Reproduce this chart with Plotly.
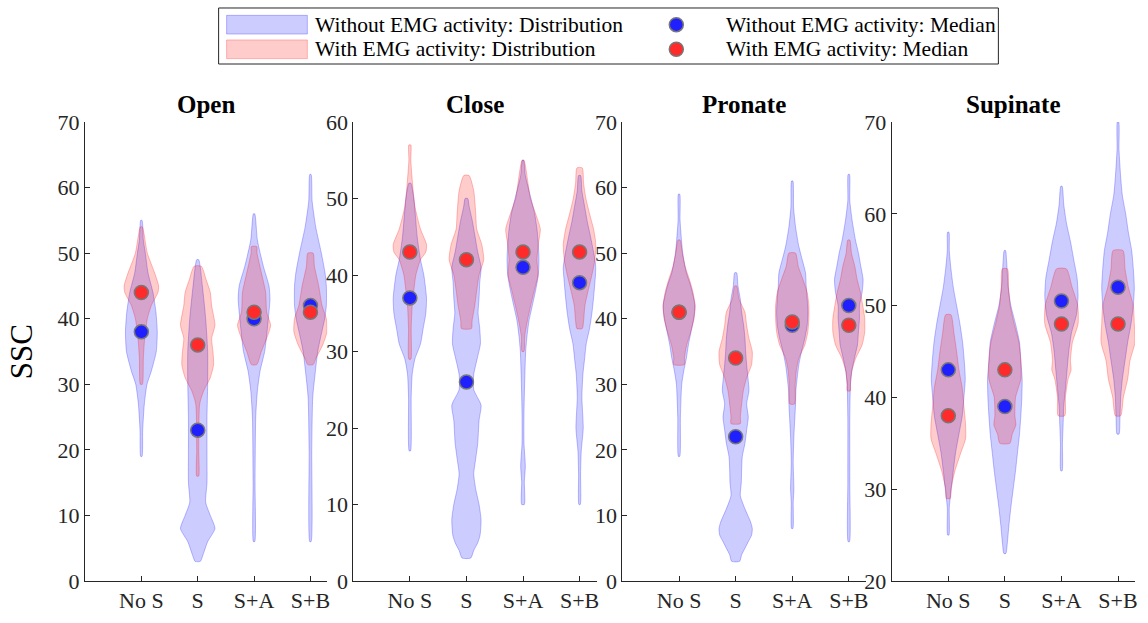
import plotly.graph_objects as go

# ---------------- data ----------------
categories = ["No S", "S", "S+A", "S+B"]
panels = ["Open", "Close", "Pronate", "Supinate"]

# violin outlines: [value, relative density half-width], top -> bottom
open_without = [
    [[55, 2], [52, 6], [50, 12], [47, 20], [44, 35], [41, 44], [38, 48], [35, 45], [32, 30], [30, 17], [27, 9], [23, 4], [19, 2]],
    [[49, 3], [45, 14], [40, 24], [35, 30], [30, 30], [25, 28], [20, 28], [15, 28], [12, 24], [10, 38], [8, 52], [6, 30], [4, 16], [3, 8]],
    [[56, 2], [52, 10], [48, 28], [45, 45], [43, 48], [40, 43], [37, 37], [35, 32], [32, 18], [29, 10], [25, 5], [15, 3], [6, 2]],
    [[62, 2], [58, 5], [54, 16], [50, 33], [47, 44], [45, 48], [42, 48], [40, 43], [37, 30], [35, 22], [32, 15], [28, 7], [20, 4], [6, 2]],
]
open_with = [
    [[54, 3], [50, 18], [47, 40], [45, 52], [44, 50], [42, 30], [40, 18], [37, 10], [34, 6], [30, 3]],
    [[48, 11], [46, 25], [44, 38], [42, 42], [39, 52], [37, 42], [35, 46], [33, 48], [31, 38], [29, 18], [27, 6], [20, 3], [16, 3]],
    [[51, 8], [50, 9], [47, 22], [44, 35], [41, 38], [39, 50], [37, 38], [35, 22], [33, 8]],
    [[50, 8], [48, 12], [45, 25], [42, 35], [40, 48], [38, 50], [36, 37], [34, 17], [33, 8]],
]
close_without = [
    [[52, 3], [50, 12], [45, 22], [42, 32], [40, 42], [37, 50], [35, 48], [33, 40], [31, 32], [29, 15], [27, 7], [24, 4], [17, 2]],
    [[50, 4], [49, 8], [47, 18], [45, 26], [43, 34], [41, 44], [39, 40], [37, 38], [35, 35], [33, 40], [31, 42], [29, 32], [27, 22], [25, 22],
     [23, 44], [21, 38], [18, 34], [16, 28], [14, 22], [12, 28], [10, 38], [8, 44], [6, 41], [5, 34], [4, 22], [3, 13]],
    [[55, 2], [53, 7], [50, 24], [48, 35], [46, 42], [44, 46], [42, 48], [40, 46], [38, 38], [36, 28], [34, 18], [32, 12], [30, 8], [26, 5],
     [22, 3], [18, 3], [15, 7], [13, 4], [10, 4]],
    [[53, 3], [51, 7], [49, 15], [47, 23], [45, 33], [43, 42], [41, 49], [39, 46], [37, 42], [35, 37], [33, 30], [31, 20], [29, 15], [27, 10],
     [24, 7], [20, 11], [17, 5], [14, 3], [10, 2]],
]
close_with = [
    [[57, 3], [55, 3], [52, 8], [49, 15], [46, 32], [44, 50], [43, 48], [42, 32], [40, 18], [38, 12], [36, 7], [33, 4], [29, 3]],
    [[53, 8], [51, 22], [48, 28], [46, 31], [44, 46], [42, 52], [40, 38], [38, 31], [36, 25], [34, 17], [33, 15]],
    [[55, 3], [52, 15], [50, 22], [48, 38], [46, 52], [44, 46], [42, 42], [40, 45], [38, 34], [36, 23], [34, 13], [32, 5], [30, 3]],
    [[54, 8], [52, 12], [50, 19], [48, 30], [46, 42], [44, 49], [42, 46], [40, 37], [38, 26], [36, 16], [34, 12], [33, 8]],
]
pronate_without = [
    [[59, 2], [55, 3], [50, 11], [47, 22], [45, 35], [42, 48], [40, 44], [38, 36], [36, 28], [34, 22], [32, 14], [30, 8], [25, 4], [19, 2]],
    [[47, 3], [45, 7], [43, 14], [41, 18], [39, 24], [37, 28], [35, 30], [33, 33], [31, 37], [29, 40], [27, 33], [25, 38], [23, 33], [21, 28],
     [19, 20], [17, 18], [15, 17], [13, 14], [11, 28], [9, 45], [8, 50], [7, 48], [6, 38], [5, 28], [4, 18], [3, 12]],
    [[61, 2], [57, 4], [54, 10], [51, 20], [49, 30], [47, 40], [45, 42], [43, 45], [41, 47], [39, 45], [37, 38], [35, 28], [33, 20], [31, 15],
     [29, 11], [27, 10], [25, 8], [22, 5], [18, 3], [14, 5], [12, 3], [8, 2]],
    [[62, 2], [58, 3], [55, 10], [52, 20], [50, 29], [48, 36], [46, 43], [44, 40], [42, 32], [40, 32], [38, 29], [36, 26], [34, 17], [32, 9],
     [30, 5], [25, 3], [15, 3], [6, 2]],
]
pronate_with = [
    [[52, 3], [50, 10], [48, 18], [46, 31], [44, 42], [42, 48], [40, 45], [38, 35], [36, 23], [34, 16], [33, 16]],
    [[45, 3], [43, 10], [41, 28], [39, 33], [37, 40], [35, 50], [33, 48], [31, 33], [29, 23], [27, 18], [25, 14], [24, 14]],
    [[50, 10], [48, 18], [46, 32], [44, 45], [42, 50], [40, 50], [38, 47], [36, 38], [34, 20], [32, 12], [30, 9], [27, 7]],
    [[52, 3], [50, 8], [48, 18], [46, 25], [44, 35], [42, 42], [40, 48], [38, 48], [36, 40], [34, 21], [32, 9], [30, 5], [29, 5]],
]
supinate_without = [
    [[58, 2], [56, 3], [54, 8], [52, 15], [50, 25], [48, 35], [46, 43], [44, 48], [42, 51], [40, 47], [38, 42], [36, 32], [34, 22], [32, 15],
     [30, 9], [28, 3], [25, 2]],
    [[56, 2], [55, 5], [52, 10], [50, 18], [48, 32], [46, 44], [44, 48], [42, 52], [40, 51], [38, 48], [36, 44], [34, 38], [32, 32], [30, 25],
     [28, 18], [26, 12], [24, 7], [23, 3]],
    [[63, 2], [61, 7], [59, 15], [57, 27], [55, 37], [53, 47], [51, 50], [49, 45], [47, 30], [45, 22], [43, 17], [41, 12], [39, 7], [37, 5],
     [35, 3], [32, 2]],
    [[70, 2], [67, 3], [64, 8], [62, 13], [60, 23], [58, 31], [56, 41], [54, 46], [52, 49], [50, 46], [48, 39], [46, 29], [44, 21], [42, 13],
     [40, 8], [38, 6], [36, 3]],
]
supinate_with = [
    [[49, 8], [47, 17], [45, 25], [43, 32], [41, 42], [39, 47], [37, 52], [35.5, 52], [34, 38], [32, 20], [30, 8], [29, 6]],
    [[54, 8], [52, 11], [50, 16], [48, 28], [46, 42], [44, 48], [42, 48], [40, 32], [38, 30], [37, 33], [36, 22], [35, 15]],
    [[54, 15], [52, 32], [50, 49], [48, 50], [46, 33], [44, 27], [43, 29], [42, 20], [40, 12], [38, 10]],
    [[56, 15], [54, 21], [52, 31], [50, 46], [48, 49], [46, 51], [44, 36], [42, 29], [40, 16], [38, 8]],
]

median_without = {
    "Open": [38, 23, 40, 42],
    "Close": [37, 26, 41, 39],
    "Pronate": [41, 22, 39, 42],
    "Supinate": [43, 39, 50.5, 52],
}
median_with = {
    "Open": [44, 36, 41, 41],
    "Close": [43, 42, 43, 43],
    "Pronate": [41, 34, 39.5, 39],
    "Supinate": [38, 43, 48, 48],
}

profiles_without = {"Open": open_without, "Close": close_without,
                    "Pronate": pronate_without, "Supinate": supinate_without}
profiles_with = {"Open": open_with, "Close": close_with,
                 "Pronate": pronate_with, "Supinate": supinate_with}

series_names = {
    "without_dist": "Without EMG activity: Distribution",
    "with_dist": "With EMG activity: Distribution",
    "without_med": "Without EMG activity: Median",
    "with_med": "With EMG activity: Median",
}

# ---------------- styling ----------------
FONT = "Liberation Serif"
AX = "#262626"
DENS_SCALE = 1 / 170.0
y_ranges = {"Open": [0, 70], "Close": [0, 60], "Pronate": [0, 70], "Supinate": [20, 70]}
domains = [[0.0, 0.2308], [0.2555, 0.4872], [0.5119, 0.7436], [0.7683, 1.0]]

ML, MR, MT, MB = 85, 10, 122, 34
W, H = 1148, 623
PW, PH = W - ML - MR, H - MT - MB

BLUE_FILL = "rgba(0,0,255,0.2)"
BLUE_LINE = "rgba(0,0,255,0.25)"
RED_FILL = "rgba(255,0,0,0.2)"
RED_LINE = "rgba(255,0,0,0.25)"
BLUE_MARK = "#2020ff"
RED_MARK = "#ff2a2a"
MARK_EDGE = "#777777"


def px_x(px):
    return (px - ML) / PW


def px_y(py):
    return 1 + (MT - py) / PH


fig = go.Figure()


def outline(center, prof):
    ys = [p[0] for p in prof]
    ws = [p[1] * DENS_SCALE for p in prof]
    x = [center + w for w in ws] + [center - w for w in reversed(ws)] + [center + ws[0]]
    y = ys + list(reversed(ys)) + [ys[0]]
    return x, y


for pi, panel in enumerate(panels):
    xa = "x" if pi == 0 else f"x{pi + 1}"
    ya = "y" if pi == 0 else f"y{pi + 1}"
    for prof_set, fillc, linec, key in [
        (profiles_without[panel], BLUE_FILL, BLUE_LINE, "without_dist"),
        (profiles_with[panel], RED_FILL, RED_LINE, "with_dist"),
    ]:
        for ci, cat in enumerate(categories):
            x, y = outline(ci + 1, prof_set[ci])
            fig.add_trace(go.Scatter(
                x=x, y=y, xaxis=xa, yaxis=ya, mode="lines", fill="toself",
                fillcolor=fillc, line=dict(color=linec, width=1, shape="spline", smoothing=0.6),
                name=series_names[key], showlegend=False, hoverinfo="skip"))
    for meds, col, key in [
        (median_without[panel], BLUE_MARK, "without_med"),
        (median_with[panel], RED_MARK, "with_med"),
    ]:
        fig.add_trace(go.Scatter(
            x=[1, 2, 3, 4], y=meds, xaxis=xa, yaxis=ya, mode="markers",
            marker=dict(size=14, color=col, line=dict(color=MARK_EDGE, width=1.5)),
            name=series_names[key], showlegend=False))

# ---------------- legend (drawn manually to match the boxed 2x2 layout) ----------------
shapes = [dict(type="rect", xref="paper", yref="paper",
               x0=px_x(219), x1=px_x(1001), y0=px_y(63), y1=px_y(6),
               line=dict(color=AX, width=1), fillcolor="white", layer="below")]
annotations = []
rows = [(23, BLUE_FILL, BLUE_LINE, BLUE_MARK, "without_dist", "without_med"),
        (48, RED_FILL, RED_LINE, RED_MARK, "with_dist", "with_med")]
for cy, fillc, linec, markc, kd, km in rows:
    shapes.append(dict(type="rect", xref="paper", yref="paper",
                       x0=px_x(227), x1=px_x(308), y0=px_y(cy + 9.5), y1=px_y(cy - 9.5),
                       fillcolor=fillc, line=dict(color=linec, width=1)))
    shapes.append(dict(type="circle", xref="paper", yref="paper",
                       xsizemode="pixel", ysizemode="pixel",
                       xanchor=px_x(678), yanchor=px_y(cy),
                       x0=-7, x1=7, y0=-7, y1=7,
                       fillcolor=markc, line=dict(color=MARK_EDGE, width=1.5)))
    annotations.append(dict(text=series_names[kd], xref="paper", yref="paper",
                            x=px_x(314), y=px_y(cy), xanchor="left", yanchor="middle",
                            showarrow=False, font=dict(family=FONT, size=21.5, color="black")))
    annotations.append(dict(text=series_names[km], xref="paper", yref="paper",
                            x=px_x(726), y=px_y(cy), xanchor="left", yanchor="middle",
                            showarrow=False, font=dict(family=FONT, size=21.5, color="black")))

layout = dict(
    width=W, height=H,
    margin=dict(l=ML, r=MR, t=MT, b=MB),
    paper_bgcolor="white", plot_bgcolor="white",
    font=dict(family=FONT, size=22, color=AX),
    showlegend=False,
    shapes=shapes,
    annotations=annotations,
)

for pi, panel in enumerate(panels):
    xk = "xaxis" if pi == 0 else f"xaxis{pi + 1}"
    yk = "yaxis" if pi == 0 else f"yaxis{pi + 1}"
    xa = "x" if pi == 0 else f"x{pi + 1}"
    ya = "y" if pi == 0 else f"y{pi + 1}"
    layout[xk] = dict(domain=domains[pi], range=[0, 4.3], anchor=ya,
                      tickvals=[1, 2, 3, 4], ticktext=categories,
                      ticks="inside", ticklen=5, tickcolor=AX, tickwidth=1,
                      showline=True, linecolor=AX, linewidth=1,
                      showgrid=False, zeroline=False, fixedrange=True)
    layout[yk] = dict(range=y_ranges[panel], anchor=xa, dtick=10,
                      ticks="inside", ticklen=5, tickcolor=AX, tickwidth=1,
                      showline=True, linecolor=AX, linewidth=1,
                      showgrid=False, zeroline=False, fixedrange=True)
    layout["annotations"].append(dict(
        text=f"<b>{panel}</b>", xref="paper", yref="paper",
        x=(domains[pi][0] + domains[pi][1]) / 2, y=px_y(104),
        xanchor="center", yanchor="middle", showarrow=False,
        font=dict(family=FONT, size=25, color="black")))

layout["annotations"].append(dict(
    text="SSC", xref="paper", yref="paper", x=px_x(22), y=px_y(356),
    xanchor="center", yanchor="middle", textangle=-90, showarrow=False,
    font=dict(family=FONT, size=31, color="black")))

fig.update_layout(**layout)
fig.write_html("out.html")
